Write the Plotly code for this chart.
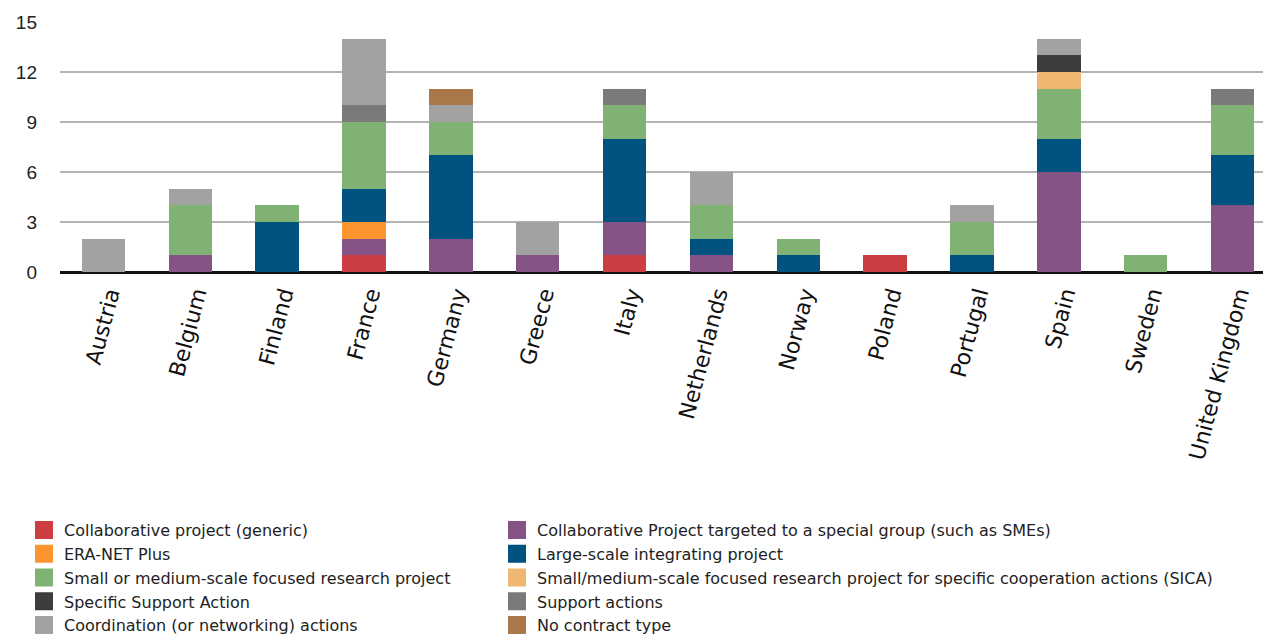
import plotly.graph_objects as go

countries = ["Austria", "Belgium", "Finland", "France", "Germany", "Greece", "Italy",
             "Netherlands", "Norway", "Poland", "Portugal", "Spain", "Sweden", "United Kingdom"]

collab_generic = [0, 0, 0, 1, 0, 0, 1, 0, 0, 1, 0, 0, 0, 0]
collab_targeted = [0, 1, 0, 1, 2, 1, 2, 1, 0, 0, 0, 6, 0, 4]
era_net_plus = [0, 0, 0, 1, 0, 0, 0, 0, 0, 0, 0, 0, 0, 0]
large_scale = [0, 0, 3, 2, 5, 0, 5, 1, 1, 0, 1, 2, 0, 3]
small_medium = [0, 3, 1, 4, 2, 0, 2, 2, 1, 0, 2, 3, 1, 3]
sica = [0, 0, 0, 0, 0, 0, 0, 0, 0, 0, 0, 1, 0, 0]
specific_support = [0, 0, 0, 0, 0, 0, 0, 0, 0, 0, 0, 1, 0, 0]
support_actions = [0, 0, 0, 1, 0, 0, 1, 0, 0, 0, 0, 0, 0, 1]
coordination = [2, 1, 0, 4, 1, 2, 0, 2, 0, 0, 1, 1, 0, 0]
no_contract = [0, 0, 0, 0, 1, 0, 0, 0, 0, 0, 0, 0, 0, 0]

series = [
    ("Collaborative project (generic)", collab_generic, "#CC3E42"),
    ("Collaborative Project targeted to a special group (such as SMEs)", collab_targeted, "#855386"),
    ("ERA-NET Plus", era_net_plus, "#FD952F"),
    ("Large-scale integrating project", large_scale, "#00527F"),
    ("Small or medium-scale focused research project", small_medium, "#7FB273"),
    ("Small/medium-scale focused research project for specific cooperation actions (SICA)", sica, "#EFB870"),
    ("Specific Support Action", specific_support, "#3D3D3D"),
    ("Support actions", support_actions, "#7A7A7A"),
    ("Coordination (or networking) actions", coordination, "#A2A2A2"),
    ("No contract type", no_contract, "#A8784A"),
]

y_ticks = [0, 3, 6, 9, 12, 15]

fig = go.Figure()
for name, vals, color in series:
    fig.add_trace(go.Bar(
        x=countries, y=vals, name=name, marker=dict(color=color, line=dict(width=0)),
        legendgroup=name, showlegend=False,
    ))
for i, (name, vals, color) in enumerate(series):
    fig.add_trace(go.Scatter(
        x=[None], y=[None], mode="markers", name=name, legendgroup=name,
        marker=dict(symbol="square", size=16, color=color, line=dict(color=color, width=2)),
        showlegend=True, legend="legend" if i % 2 == 0 else "legend2",
    ))

legend_top = (634 - 505) / 634
legend_common = dict(
    orientation="v", xref="container", yref="container", yanchor="top", xanchor="left",
    font=dict(size=16, color="#222222", family="DejaVu Sans, sans-serif"),
    tracegroupgap=0, traceorder="normal", itemclick=False, itemdoubleclick=False,
    bgcolor="rgba(0,0,0,0)",
)

fig.update_layout(
    barmode="stack",
    bargap=0.5,
    width=1271, height=634,
    margin=dict(l=52, r=3, t=14, b=370, autoexpand=False),
    plot_bgcolor="white", paper_bgcolor="white",
    font=dict(family="Liberation Sans, Arial, sans-serif", color="#222222"),
    showlegend=True,
    legend=dict(x=16 / 1271, y=legend_top, **legend_common),
    legend2=dict(x=489 / 1271, y=legend_top, **legend_common),
)
fig.update_yaxes(
    range=[0, 15], tickvals=y_ticks, showgrid=True, gridcolor="#B3B3B3", gridwidth=2,
    zeroline=True, zerolinecolor="#111111", zerolinewidth=3,
    tickfont=dict(size=19, color="#222222"), ticklabelstandoff=22, showline=False,
    fixedrange=True, automargin=False,
)
fig.update_xaxes(
    tickangle=-75, tickfont=dict(size=22, color="#111111", family="DejaVu Sans, sans-serif"),
    ticklabelstandoff=4, ticklabelshift=6,
    showgrid=False, showline=False, ticks="", fixedrange=True, automargin=False,
)

fig.write_html("out.html")
